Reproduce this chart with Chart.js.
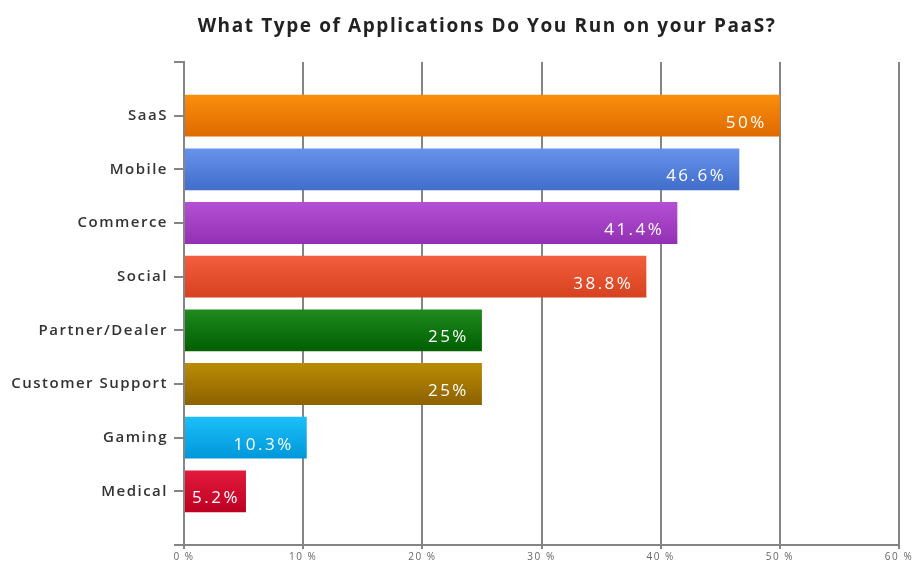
<!DOCTYPE html>
<html>
<head>
<meta charset="utf-8">
<script src="https://cdn.jsdelivr.net/npm/chart.js@4.4.1/dist/chart.umd.min.js"></script>
<style>
  html, body { margin: 0; padding: 0; background: #fff; }
  #wrap { width: 915px; height: 567px; }
</style>
</head>
<body>
<div id="wrap"><canvas id="paasChart"></canvas></div>
<script>
// data
const categories = ['SaaS', 'Mobile', 'Commerce', 'Social', 'Partner/Dealer', 'Customer Support', 'Gaming', 'Medical'];
const shares = [50, 46.6, 41.4, 38.8, 25, 25, 10.3, 5.2];
const shareLabels = ['50%', '46.6%', '41.4%', '38.8%', '25%', '25%', '10.3%', '5.2%'];
const xTicks = [0, 10, 20, 30, 40, 50, 60];
const chartTitle = 'What Type of Applications Do You Run on your PaaS?';

// kleuren boven / onder voor het verloop
const topColors = ['#fb8e0c', '#6893ec', '#b550d4', '#f35f3e', '#1f8a1f', '#bb8c04', '#1cbff8', '#e31a3d'];
const bottomColors = ['#dd6a00', '#416dcb', '#9230b3', '#d6421f', '#005f00', '#8c6100', '#0097da', '#bd0022'];

const FONT = '"Open Sans", Lato, sans-serif';
const BAR_H = 42;

function barGradient(context) {
    const chart = context.chart;
    const i = context.dataIndex;
    if (!chart.chartArea || !chart.scales.y) return topColors[i];
    const yc = chart.scales.y.getPixelForValue(i);
    const g = chart.ctx.createLinearGradient(0, yc - BAR_H / 2, 0, yc + BAR_H / 2);
    g.addColorStop(0, topColors[i]);
    g.addColorStop(1, bottomColors[i]);
    return g;
}

// wat extra letterafstand, de labels in het origineel zijn breed
const spacingPlugin = {
    id: 'letterSpacing',
    beforeDraw(chart) {
        chart.ctx.letterSpacing = '1.5px';
    }
};

const titlePlugin = {
    id: 'titleText',
    afterDraw(chart) {
        const ctx = chart.ctx;
        ctx.save();
        ctx.letterSpacing = '1.6px';
        ctx.font = `bold 19px ${FONT}`;
        ctx.fillStyle = '#222';
        ctx.textAlign = 'center';
        ctx.textBaseline = 'middle';
        ctx.fillText(chartTitle, 487, 27);
        ctx.restore();
    }
};

const valueLabelPlugin = {
    id: 'valueLabels',
    afterDatasetsDraw(chart) {
        const ctx = chart.ctx;
        const meta = chart.getDatasetMeta(0);
        const x0 = chart.scales.x.getPixelForValue(0);
        ctx.save();
        ctx.letterSpacing = '2.5px';
        ctx.font = `17px ${FONT}`;
        ctx.fillStyle = '#fff';
        ctx.textAlign = 'left';
        ctx.textBaseline = 'middle';
        meta.data.forEach((bar, i) => {
            const txt = shareLabels[i];
            const w = ctx.measureText(txt).width;
            let x = bar.x - 13 - w;
            if (x < x0 + 8) x = x0 + 8;
            ctx.fillText(txt, x, bar.y + 7);
        });
        ctx.restore();
    }
};

new Chart(document.getElementById('paasChart'), {
    type: 'bar',
    data: {
        datasets: [{
            data: shares.map((v, i) => ({ x: v, y: i })),
            backgroundColor: barGradient,
            borderWidth: 0,
            barPercentage: 0.78,
            categoryPercentage: 1
        }]
    },
    options: {
        indexAxis: 'y',
        responsive: true,
        maintainAspectRatio: false,
        animation: false,
        layout: { padding: { top: 62, right: 16, bottom: 0, left: 0 } },
        plugins: {
            legend: { display: false },
            tooltip: { enabled: false },
            title: { display: false }
        },
        scales: {
            x: {
                type: 'linear',
                min: 0,
                max: 60,
                afterBuildTicks(scale) {
                    scale.ticks = xTicks.map(v => ({ value: v }));
                },
                ticks: {
                    callback: v => v + ' %',
                    font: { family: FONT, size: 10 },
                    color: '#666',
                    padding: 2
                },
                grid: { color: '#858585', lineWidth: 2, tickLength: 4 },
                border: { color: '#858585', width: 2 },
                afterFit(scale) { scale.height = 22; }
            },
            y: {
                type: 'linear',
                reverse: true,
                offset: false,
                min: -1,
                max: 8,
                ticks: {
                    stepSize: 1,
                    callback: v => categories[v] || '',
                    font: { family: FONT, size: 15, weight: '600' },
                    color: '#333',
                    padding: 6
                },
                grid: { offset: false, drawOnChartArea: false, color: '#858585', lineWidth: 2, tickLength: 10 },
                border: { color: '#858585', width: 2 },
                afterFit(scale) { scale.width = 184; }
            }
        }
    },
    plugins: [spacingPlugin, titlePlugin, valueLabelPlugin]
});
</script>
</body>
</html>
